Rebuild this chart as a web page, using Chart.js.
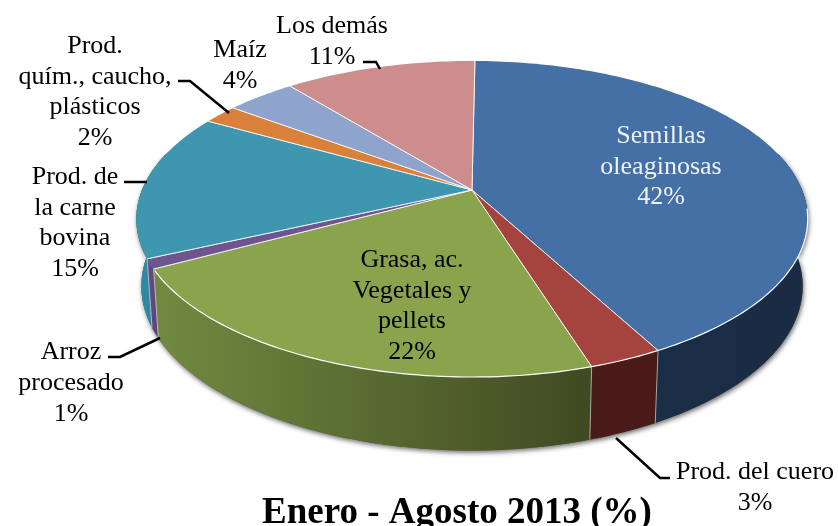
<!DOCTYPE html>
<html><head><meta charset="utf-8">
<style>html,body{margin:0;padding:0;background:#fff;overflow:hidden}canvas{display:block}</style>
<script src="https://cdn.jsdelivr.net/npm/chart.js@4/dist/chart.umd.min.js"></script>
</head><body><canvas id="c" width="838" height="526"></canvas>
<script>
const categories = ['Semillas oleaginosas','Prod. del cuero','Grasa, ac. Vegetales y pellets','Arroz procesado','Prod. de la carne bovina','Prod. quím., caucho, plásticos','Maíz','Los demás'];
const values = [42,3,22,1,15,2,4,11];
const titleText = 'Enero - Agosto 2013 (%)';
const labelLines = [['Semillas','oleaginosas'],['Prod. del cuero'],['Grasa, ac.','Vegetales y','pellets'],['Arroz','procesado'],['Prod. de','la carne','bovina'],['Prod.','quím., caucho,','plásticos'],['Maíz'],['Los demás']];
const topColors = ['#4470A5','#A5443F','#8AA44E','#6F5590','#3F96AF','#D9803A','#8FA4CC','#CE8D8D'];
const wallLeft = ['#1B2E47','#4A1B19','#728A40','#654C87','#2F8CA6','#A55F2A','#6A7FA5','#9A6A6A'];
const wallRight = ['#1A2C44','#481A18','#3F4A22','#5A4478','#2A8099','#A55F2A','#6A7FA5','#9A6A6A'];
const labelLayout = [
  {x:661,y:143,dy:30.5,color:'#EEF2F8'},{x:755,y:479,dy:31},{x:412,y:267,dy:30.7},{x:71,y:359,dy:31},
  {x:75,y:184,dy:30.7},{x:95,y:53,dy:30.5},{x:240,y:57,dy:31},{x:332,y:33,dy:31}
];
const leaders = [
  [[178,81],[190,81],[229,113]],[[363,62],[376,62],[380,69]],[[124,182],[147,182]],
  [[108,357],[120,357],[160,338]],[[616,438],[660,478],[670,478]]
];

// Perspective view of the circular pie plane
const RX = 330, RY = 152.7, K = 0.1835;
function topPoint(el, a){
  const u = Math.cos(a), v = Math.sin(a), w = 1 - K*v;
  return [el.x + RX*u/w, el.y + RY*v/w];
}
function lowPoint(el, a){
  const p = topPoint(el, a), d = p[1]-el.y;
  return [el.x + (p[0]-el.x)*0.985, el.y + d*1.04 + 66];
}
function arcPts(fn, el, a0, a1){
  const n = Math.max(2, Math.ceil(Math.abs(a1-a0)/0.02)), pts = [];
  for(let i=0;i<=n;i++) pts.push(fn(el, a0+(a1-a0)*i/n));
  return pts;
}
function tracePts(ctx, pts, move){ pts.forEach((p,i)=> (i===0&&move) ? ctx.moveTo(p[0],p[1]) : ctx.lineTo(p[0],p[1])); }

// The library's arc elements draw themselves in the perspective plane
Chart.ArcElement.prototype.draw = function(ctx){
  const o = this.options;
  ctx.save();
  ctx.beginPath();
  ctx.moveTo(this.x,this.y);
  tracePts(ctx, arcPts(topPoint,this,this.startAngle,this.endAngle), false);
  ctx.closePath();
  ctx.fillStyle = o.backgroundColor;
  ctx.fill();
  // white seams along the radial edges
  const s = topPoint(this,this.startAngle), e = topPoint(this,this.endAngle);
  ctx.beginPath(); ctx.moveTo(s[0],s[1]); ctx.lineTo(this.x,this.y); ctx.lineTo(e[0],e[1]);
  ctx.strokeStyle = 'rgba(255,255,255,0.8)'; ctx.lineWidth = 1; ctx.stroke();
  // white rim on the front
  const a0 = Math.max(this.startAngle,0.12), a1 = Math.min(this.endAngle,2.64);
  if(a1>a0){ ctx.beginPath(); tracePts(ctx, arcPts(topPoint,this,a0,a1), true);
    ctx.strokeStyle='#fff'; ctx.lineWidth=1.2; ctx.stroke(); }
  ctx.restore();
};

const wallsPlugin = {
  id:'walls',
  beforeDatasetsDraw(chart){
    const ctx = chart.ctx, arcs = chart.getDatasetMeta(0).data;
    const A0 = -0.25, A1 = Math.PI+0.25;
    ctx.save();
    // soft shadow under the body
    const first = arcs[0];
    ctx.beginPath();
    tracePts(ctx, arcPts(lowPoint,first,A0,A1), true);
    tracePts(ctx, arcPts(topPoint,first,A1,A0), false);
    ctx.closePath();
    ctx.shadowColor='rgba(0,0,0,0.6)'; ctx.shadowBlur=5; ctx.shadowOffsetX=1; ctx.shadowOffsetY=2;
    ctx.fillStyle='#555'; ctx.fill();
    ctx.shadowColor='transparent'; ctx.shadowBlur=0; ctx.shadowOffsetX=0; ctx.shadowOffsetY=0;
    arcs.forEach((el,i)=>{
      const a0 = Math.max(el.startAngle,A0), a1 = Math.min(el.endAngle,A1);
      if(a1<=a0) return;
      const lo = arcPts(lowPoint,el,a0,a1), hi = arcPts(topPoint,el,a0,a1);
      const xs = lo.concat(hi).map(p=>p[0]);
      const g = ctx.createLinearGradient(Math.min(...xs),0,Math.max(...xs),0);
      g.addColorStop(0, wallLeft[i]); g.addColorStop(1, wallRight[i]);
      ctx.beginPath();
      tracePts(ctx, hi, true);
      tracePts(ctx, lo.slice().reverse(), false);
      ctx.closePath();
      ctx.fillStyle = g; ctx.fill();
      // pale seams between walls
      ctx.strokeStyle='rgba(255,255,255,0.55)'; ctx.lineWidth=1;
      ctx.beginPath(); ctx.moveTo(hi[0][0],hi[0][1]); ctx.lineTo(lo[0][0],lo[0][1]); ctx.stroke();
    });
    ctx.restore();
  },
  afterDatasetsDraw(chart){
    const ctx = chart.ctx;
    ctx.save();
    ctx.strokeStyle='#000'; ctx.lineWidth=2.5; ctx.lineJoin='miter';
    leaders.forEach(l=>{ ctx.beginPath(); l.forEach((p,i)=> i?ctx.lineTo(p[0],p[1]):ctx.moveTo(p[0],p[1])); ctx.stroke(); });
    ctx.font = '26px "Liberation Serif"'; ctx.textAlign='center'; ctx.textBaseline='alphabetic';
    labelLines.forEach((lines,i)=>{
      const l = labelLayout[i]; ctx.fillStyle = l.color || '#000';
      lines.concat([values[i]+'%']).forEach((t,j)=> ctx.fillText(t,l.x,l.y+j*l.dy));
    });
    ctx.font = 'bold 37px "Liberation Serif"'; ctx.fillStyle='#000';
    ctx.fillText(titleText,457,523);
    ctx.restore();
  }
};

new Chart(document.getElementById('c'),{
  type:'pie',
  data:{labels:categories,datasets:[{data:values,backgroundColor:topColors,borderWidth:0}]},
  options:{
    responsive:false,animation:false,rotation:0.6,
    layout:{padding:{left:106,right:0,top:0,bottom:146}},
    plugins:{legend:{display:false},tooltip:{enabled:false},title:{display:false}}
  },
  plugins:[wallsPlugin]
});
</script></body></html>
